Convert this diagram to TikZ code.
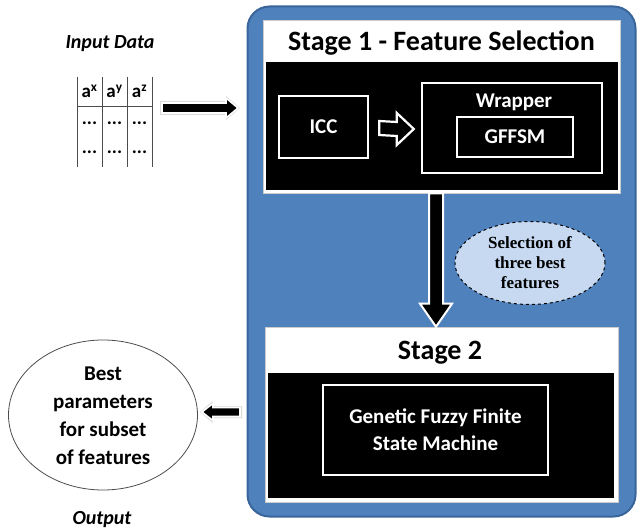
\documentclass[tikz,border=0pt]{standalone}
\usepackage{fontspec}
\setmainfont{Carlito}
\newfontfamily\serifbold{Liberation Serif}
\usetikzlibrary{shapes.geometric,calc}
\definecolor{bluebox}{HTML}{4F81BD}
\definecolor{blueedge}{HTML}{3A659A}
\definecolor{lightblue}{HTML}{C6D9F1}
\definecolor{shadowgray}{HTML}{D9D9D9}
\begin{document}
\begin{tikzpicture}[x=1pt,y=-1pt,
  panel/.style={draw=blueedge, fill=bluebox, line width=2pt, rounded corners=22pt, inner sep=0pt},
  stagebox/.style={draw=gray!40, fill=white, line width=0.6pt, inner sep=0pt},
  blackbody/.style={fill=black, inner sep=0pt},
  wbox/.style={draw=white, line width=2.4pt, fill=black, inner sep=0pt},
  wtext/.style={text=white, font=\bfseries\fontsize{21}{27}\selectfont, align=center, inner sep=0pt},
  titletext/.style={font=\bfseries\fontsize{28}{32}\selectfont, inner sep=0pt},
  labeltext/.style={font=\bfseries\itshape\fontsize{20}{24}\selectfont, inner sep=0pt},
  blockarrow/.style={fill=black, draw=white, line width=1.6pt, line join=miter},
  arrowshadow/.style={fill=shadowgray, draw=none},
  tblline/.style={draw=black!70, line width=1pt},
  tbltext/.style={font=\bfseries\fontsize{19}{22}\selectfont, inner sep=0pt}
]
\useasboundingbox (0,0) rectangle (643,532);

% main blue panel
\node[panel, minimum width=388pt, minimum height=510pt] (panel) at (441.5,261.5) {};

% ---------- Stage 1 ----------
\node[stagebox, minimum width=357pt, minimum height=173pt] (s1) at (441.5,106.5) {};
\node[blackbody, minimum width=352pt, minimum height=128pt] (s1body) at (441.5,126.5) {};
\node[titletext] (s1title) at (441.5,43) {Stage 1 - Feature Selection};
\node[wbox, minimum width=89pt, minimum height=62pt] (icc) at (323.5,127) {};
\node[wtext] (icct) at (icc.center) {ICC};
\node[wbox, minimum width=180pt, minimum height=90pt] (wrap) at (512,128) {};
\node[wtext] (wrapt) at (514,102) {Wrapper};
\node[wbox, minimum width=116pt, minimum height=40pt] (gffsm) at (515,137) {};
\node[wtext] (gffsmt) at (gffsm.center) {GFFSM};

% hollow arrow ICC -> Wrapper
\coordinate (hA) at ($(icc.east)+(10,1)$);
\coordinate (hB) at ($(wrap.west)+(-7,1)$);
\draw[draw=white, fill=black, line width=2.2pt, line join=miter]
  ($(hA)+(0,-7)$) -- ($(hB)+(-17,-7)$) -- ($(hB)+(-17,-16)$) -- (hB)
  -- ($(hB)+(-17,16)$) -- ($(hB)+(-17,7)$) -- ($(hA)+(0,7)$) -- cycle;

% ---------- Stage 2 ----------
\node[stagebox, minimum width=353pt, minimum height=175pt] (s2) at (441.5,414.5) {};
\node[blackbody, minimum width=346pt, minimum height=125pt] (s2body) at (441,435.5) {};
\node[titletext] (s2title) at (440,353) {Stage 2};
\node[wbox, minimum width=225pt, minimum height=90pt] (gfm) at (435.5,430) {};
\node[wtext] (gfmt) at (gfm.center) {Genetic Fuzzy Finite\\State Machine};

% down arrow Stage 1 -> Stage 2
\coordinate (dtop) at ($(s1.south)+(-5.5,0)$);
\coordinate (dtip) at ($(s2.north)+(-5.5,0)$);
\draw[blockarrow, line width=2pt]
  ($(dtop)+(-7,0)$) -- ($(dtip)+(-7,-23)$) -- ($(dtip)+(-16,-23)$) -- (dtip)
  -- ($(dtip)+(16,-23)$) -- ($(dtip)+(7,-23)$) -- ($(dtop)+(7,0)$) -- cycle;

% selection ellipse
\node[ellipse, draw=black, dashed, line width=1pt, fill=lightblue,
      minimum width=150pt, minimum height=83pt, inner sep=0pt] (sel) at (530,263) {};
\node[align=center, font=\serifbold\bfseries\fontsize{17}{20}\selectfont, inner sep=0pt]
  (selt) at (sel.center) {Selection of\\three best\\features};

% ---------- Input ----------
\node[labeltext] (inlabel) at (110,44) {Input Data};
\coordinate (t1) at (77,77);
\coordinate (t2) at (102,77);
\coordinate (t3) at (127,77);
\coordinate (t4) at (152,77);
\coordinate (b1) at (77,167);
\coordinate (b2) at (102,167);
\coordinate (b3) at (127,167);
\coordinate (b4) at (152,167);
\draw[tblline] (t1) -- (b1) (t2) -- (b2) (t3) -- (b3) (t4) -- (b4);
\draw[tblline] (77,107) -- (152,107);
\node[tbltext] (ax) at (89.5,91) {a\textsuperscript{x}};
\node[tbltext] (ay) at (114.5,91) {a\textsuperscript{y}};
\node[tbltext] (az) at (139.5,91) {a\textsuperscript{z}};
\foreach \cx/\nm in {89.5/a,114.5/b,139.5/c}{
  \node[tbltext] (d1\nm) at (\cx,123) {...};
  \node[tbltext] (d2\nm) at (\cx,152) {...};
}

% input arrow
\coordinate (inA) at (162,108);
\coordinate (inB) at (238,108);
\begin{scope}[shift={(3,4)}]
\fill[arrowshadow] ($(inA)+(-2,-7)$) -- ($(inB)+(-12,-7)$) -- ($(inB)+(-12,-12)$) -- ($(inB)+(2,0)$)
  -- ($(inB)+(-12,12)$) -- ($(inB)+(-12,7)$) -- ($(inA)+(-2,7)$) -- cycle;
\end{scope}
\draw[blockarrow] ($(inA)+(0,-5)$) -- ($(inB)+(-12,-5)$) -- ($(inB)+(-12,-10)$) -- (inB)
  -- ($(inB)+(-12,10)$) -- ($(inB)+(-12,5)$) -- ($(inA)+(0,5)$) -- cycle;

% ---------- Output ----------
\node[ellipse, draw=black!70, line width=0.8pt, fill=white,
      minimum width=189pt, minimum height=150pt, inner sep=0pt] (out) at (103,415) {};
\node[align=center, font=\bfseries\fontsize{21}{28}\selectfont, inner sep=0pt]
  (outt) at (103,416) {Best\\parameters\\for subset\\of features};
\node[labeltext] (outlabel) at (102,520) {Output};

% output arrow
\coordinate (oA) at (240,412);
\coordinate (oB) at ($(out.east)+(4,-3)$);
\begin{scope}[shift={(2,4)}]
\fill[arrowshadow] ($(oA)+(2,-6)$) -- ($(oB)+(11,-6)$) -- ($(oB)+(11,-11)$) -- ($(oB)+(-2,0)$)
  -- ($(oB)+(11,11)$) -- ($(oB)+(11,6)$) -- ($(oA)+(2,6)$) -- cycle;
\end{scope}
\draw[blockarrow] ($(oA)+(0,-4.5)$) -- ($(oB)+(11,-4.5)$) -- ($(oB)+(11,-8.5)$) -- (oB)
  -- ($(oB)+(11,8.5)$) -- ($(oB)+(11,4.5)$) -- ($(oA)+(0,4.5)$) -- cycle;
\end{tikzpicture}
\end{document}
